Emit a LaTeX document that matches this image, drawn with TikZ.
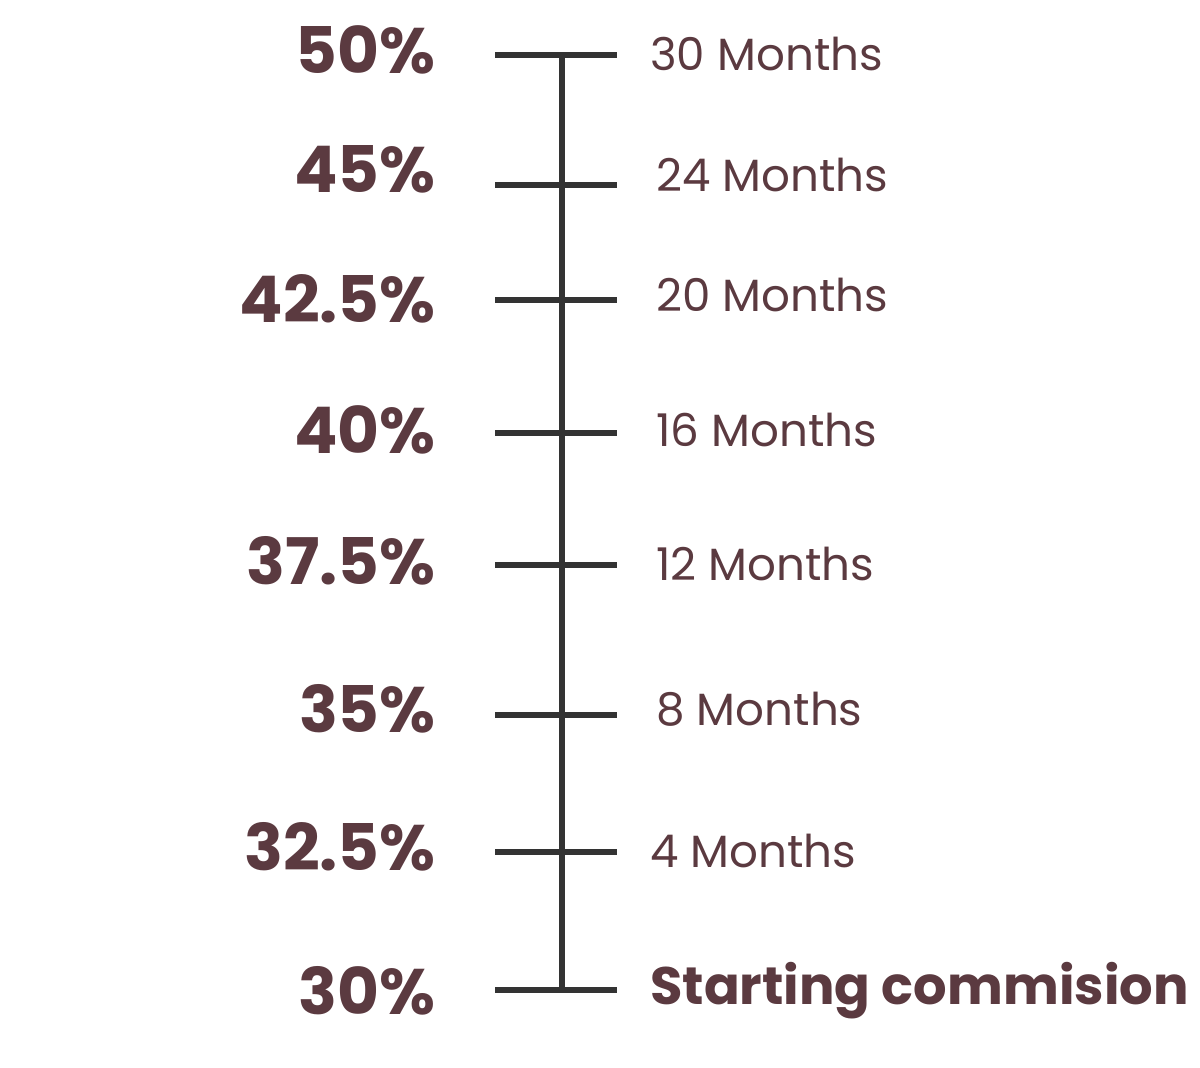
\documentclass[tikz,border=0pt]{standalone}
\usepackage{fontspec}
\setmainfont{Poppins}
\usepackage{xcolor}
\definecolor{plum}{HTML}{5B3A40}
\definecolor{axisgray}{HTML}{333333}
\tikzset{
  pct/.style={anchor=base east,inner sep=0pt,text=plum,font=\fontsize{36.6}{36.6}\selectfont\bfseries},
  mon/.style={anchor=base west,inner sep=0pt,text=plum,font=\fontsize{25.7}{25.7}\selectfont},
  tick/.style={draw=axisgray,line width=2.9pt},
}
\begin{document}
\begin{tikzpicture}[x=0.02cm,y=-0.02cm]
\useasboundingbox (0,0) rectangle (1200,1068);
% ticks
\coordinate (t0l) at (495,990); \coordinate (t0r) at (617,990);
\coordinate (t1l) at (495,852); \coordinate (t1r) at (617,852);
\coordinate (t2l) at (495,715); \coordinate (t2r) at (617,715);
\coordinate (t3l) at (495,565); \coordinate (t3r) at (617,565);
\coordinate (t4l) at (495,433); \coordinate (t4r) at (617,433);
\coordinate (t5l) at (495,300); \coordinate (t5r) at (617,300);
\coordinate (t6l) at (495,185); \coordinate (t6r) at (617,185);
\coordinate (t7l) at (495,55);  \coordinate (t7r) at (617,55);
\coordinate (top) at (562,55);
\coordinate (bot) at (562,987);
\draw[tick] (top)--(bot);
\draw[tick] (t0l)--(t0r);
\draw[tick] (t1l)--(t1r);
\draw[tick] (t2l)--(t2r);
\draw[tick] (t3l)--(t3r);
\draw[tick] (t4l)--(t4r);
\draw[tick] (t5l)--(t5r);
\draw[tick] (t6l)--(t6r);
\draw[tick] (t7l)--(t7r);
% percentages
\node[pct] (p50) at (436,74) {50\%};
\node[pct] (p45) at (436,192) {45\%};
\node[pct] (p425) at (436,322) {42.5\%};
\node[pct] (p40) at (436,453) {40\%};
\node[pct] (p375) at (436,584) {37.5\%};
\node[pct] (p35) at (436,732) {35\%};
\node[pct] (p325) at (436,870) {32.5\%};
\node[pct] (p30) at (436,1014) {30\%};
% months
\node[mon] (m30) at (650,71) {30 Months};
\node[mon] (m24) at (656,191) {24 Months};
\node[mon] (m20) at (656,311) {20 Months};
\node[mon] (m16) at (656,446) {16 Months};
\node[mon] (m12) at (656,580) {12 Months};
\node[mon] (m8) at (656,725) {8 Months};
\node[mon] (m4) at (650,867) {4 Months};
\node[mon,font=\fontsize{30}{30}\selectfont\bfseries] (m0) at (650,1004) {Starting commision};
\end{tikzpicture}
\end{document}
